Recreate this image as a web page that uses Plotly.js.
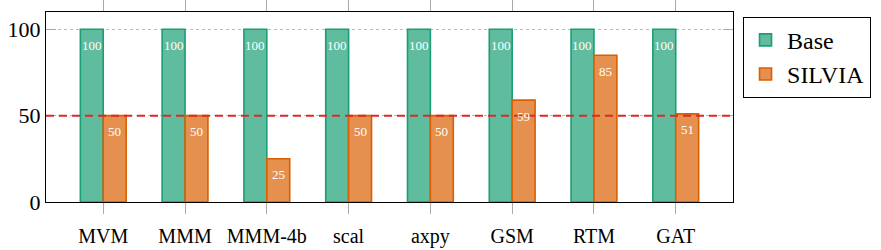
<!DOCTYPE html>
<html>
<head>
<meta charset="utf-8">
<script src="https://cdn.plot.ly/plotly-3.0.1.min.js"></script>
<style>html,body{margin:0;padding:0;background:#fff;}#chart{width:881px;height:250px;}</style>
</head>
<body>
<div id="chart"></div>
<script>
const categories = ["MVM", "MMM", "MMM-4b", "scal", "axpy", "GSM", "RTM", "GAT"];
const baseValues = [100, 100, 100, 100, 100, 100, 100, 100];
const silviaValues = [50, 50, 25, 50, 50, 59, 85, 51];
const refLine = 50;
const yTicks = [0, 50, 100];

const FONT = "Liberation Serif";

const traces = [
  {
    type: "bar", name: "Base", x: categories, y: baseValues, legendgroup: "a",
    marker: {color: "#5fbc9e", line: {color: "#1b9e77", width: 1.6}},
    hoverinfo: "skip"
  },
  {
    type: "bar", name: "SILVIA", x: categories, y: silviaValues, legendgroup: "b",
    marker: {color: "#e6904f", line: {color: "#d95f02", width: 1.6}},
    hoverinfo: "skip"
  }
];

// value labels inside the top of each bar
const halfBarPx = 11.5;
const labels = [];
[[baseValues, -halfBarPx], [silviaValues, halfBarPx]].forEach(([vals, dx]) => {
  vals.forEach((v, i) => labels.push({
    xref: "x", yref: "y", x: categories[i], y: v, xshift: dx, yshift: -16,
    text: String(v), showarrow: false, xanchor: "center", yanchor: "middle",
    font: {family: FONT, size: 13, color: "#ffffff"}
  }));
});

const layout = {
  width: 881, height: 250,
  margin: {l: 46, r: 148, t: 12, b: 48, autoexpand: false},
  paper_bgcolor: "#fff", plot_bgcolor: "#fff",
  barmode: "group", bargap: 0.44, bargroupgap: 0,
  font: {family: FONT, color: "#000"},
  showlegend: true,
  legend: {
    x: 1.0146, xanchor: "left", y: 0.975, yanchor: "top",
    bordercolor: "#000", borderwidth: 1,
    font: {family: FONT, size: 24},
    tracegroupgap: 0, itemwidth: 33, entrywidth: 135
  },
  annotations: labels,
  xaxis: {
    type: "category", range: [-0.7, 7.7],
    showline: true, linecolor: "#000", linewidth: 1.2, mirror: "allticks",
    ticks: "outside", ticklen: 11, tickcolor: "#aaa", tickwidth: 1,
    ticklabelstandoff: 5,
    tickfont: {family: FONT, size: 20}, showgrid: false, zeroline: false,
    fixedrange: true
  },
  yaxis: {
    range: [0, 110], tickvals: yTicks, ticktext: yTicks.map(String),
    showline: true, linecolor: "#000", linewidth: 1.2, mirror: "allticks",
    ticks: "inside", ticklen: 10, tickcolor: "#aaa", tickwidth: 1,
    tickfont: {family: FONT, size: 22},
    showgrid: true, gridcolor: "#bbb", griddash: "dot", gridwidth: 1,
    zeroline: false, fixedrange: true
  },
  shapes: [{
    type: "line", xref: "paper", x0: 0, x1: 1, yref: "y", y0: refLine, y1: refLine,
    line: {color: "#dc2a2a", width: 2, dash: "8px,5px"}, layer: "above"
  }]
};

Plotly.newPlot("chart", traces, layout, {staticPlot: true});
</script>
</body>
</html>
